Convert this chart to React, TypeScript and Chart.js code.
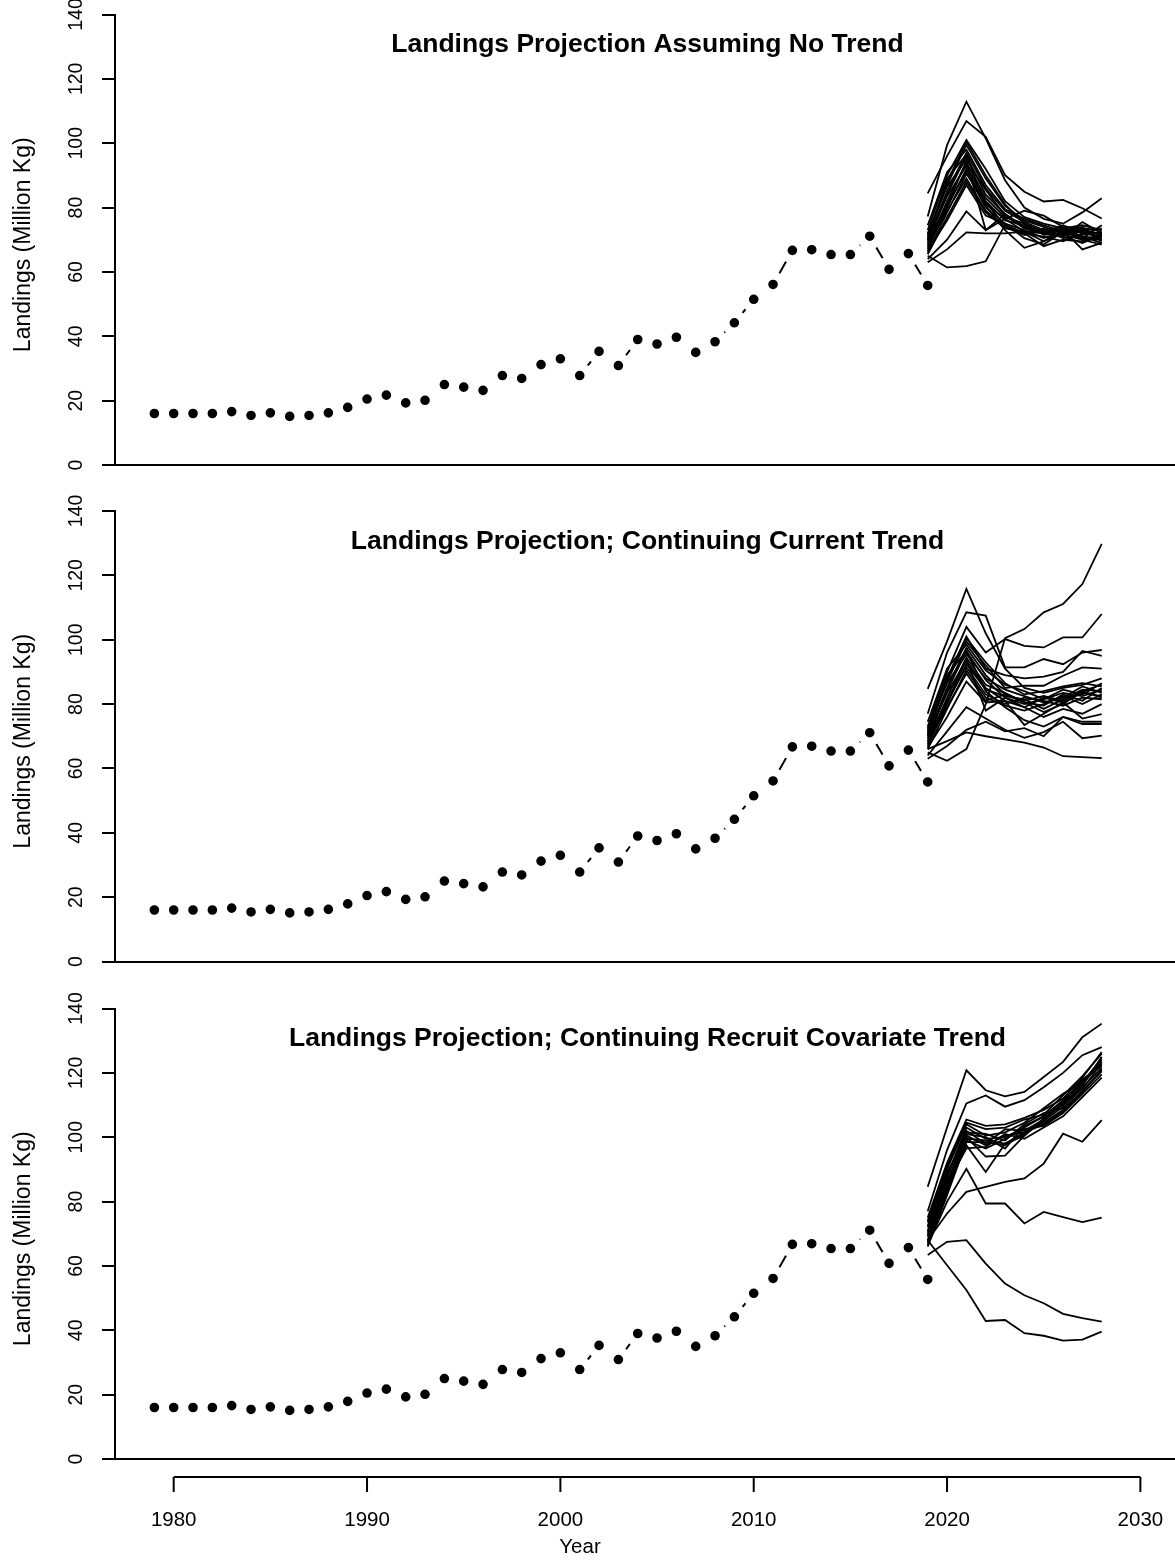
import React, { useEffect, useRef } from "react";
import { Chart, registerables } from "chart.js";

Chart.register(...registerables);

// ---------------- DATA ----------------
const obsYears = [
  1979, 1980, 1981, 1982, 1983, 1984, 1985, 1986, 1987, 1988, 1989, 1990, 1991, 1992,
  1993, 1994, 1995, 1996, 1997, 1998, 1999, 2000, 2001, 2002, 2003, 2004, 2005, 2006,
  2007, 2008, 2009, 2010, 2011, 2012, 2013, 2014, 2015, 2016, 2017, 2018, 2019,
];
const obsLandings = [
  16.0, 16.0, 16.0, 16.0, 16.6, 15.4, 16.2, 15.1, 15.4, 16.2, 17.9, 20.5, 21.7, 19.3,
  20.1, 25.0, 24.2, 23.2, 27.8, 26.9, 31.2, 33.0, 27.8, 35.3, 30.9, 39.0, 37.6, 39.7,
  35.0, 38.3, 44.2, 51.5, 56.1, 66.7, 66.9, 65.4, 65.4, 71.1, 60.8, 65.7, 55.8,
];

const projYears = [2019, 2020, 2021, 2022, 2023, 2024, 2025, 2026, 2027, 2028];

const projNoTrend = [
  [77.2, 99.4, 112.9, 101.5, 88.5, 80.0, 76.5, 75.0, 78.5, 82.9],
  [84.4, 96.0, 106.9, 102.0, 90.1, 84.9, 81.9, 82.4, 79.8, 76.6],
  [73.0, 90.0, 101.0, 92.0, 82.0, 77.0, 75.0, 73.5, 74.5, 73.0],
  [71.0, 87.0, 99.5, 89.0, 80.5, 76.0, 74.0, 72.0, 73.0, 71.5],
  [70.0, 85.0, 97.0, 86.0, 79.0, 75.5, 73.0, 71.5, 72.5, 72.0],
  [69.0, 84.0, 96.0, 84.0, 78.0, 74.0, 72.5, 73.5, 71.0, 70.5],
  [72.0, 86.5, 95.0, 85.5, 77.5, 73.5, 72.0, 74.5, 72.0, 71.0],
  [68.0, 82.0, 94.0, 83.0, 77.0, 75.0, 71.5, 72.0, 73.5, 69.5],
  [70.5, 83.5, 93.0, 82.0, 76.0, 74.5, 73.0, 70.5, 71.5, 72.5],
  [67.0, 80.0, 92.0, 81.0, 76.5, 72.5, 72.0, 73.0, 70.0, 71.0],
  [69.5, 81.0, 91.0, 80.0, 75.0, 73.0, 70.5, 72.5, 74.0, 70.0],
  [66.0, 78.5, 90.5, 81.5, 74.5, 72.0, 71.0, 69.5, 72.0, 73.5],
  [68.5, 79.0, 89.0, 79.0, 74.0, 71.5, 73.5, 71.0, 69.0, 71.5],
  [65.5, 77.0, 88.0, 78.5, 73.5, 72.5, 69.5, 72.0, 71.0, 69.0],
  [74.5, 91.0, 98.0, 87.0, 79.5, 76.5, 74.5, 72.5, 70.5, 74.5],
  [71.5, 88.0, 100.5, 90.0, 81.0, 75.0, 72.5, 71.0, 75.5, 72.0],
  [67.5, 80.5, 94.5, 73.0, 78.0, 74.0, 72.0, 71.5, 70.0, 68.5],
  [64.0, 70.0, 78.8, 73.0, 76.5, 79.0, 77.5, 74.0, 70.5, 70.0],
  [63.0, 67.0, 72.3, 72.0, 72.0, 72.5, 73.0, 74.0, 73.5, 73.0],
  [65.0, 61.4, 61.8, 63.3, 74.7, 72.0, 68.0, 70.0, 69.5, 72.0],
  [66.5, 76.0, 87.0, 77.5, 75.0, 70.5, 68.5, 72.5, 73.0, 71.5],
  [70.0, 89.0, 96.5, 80.5, 73.0, 67.5, 69.5, 73.0, 67.0, 69.0],
];

const projCurrentTrend = [
  [84.7, 99.5, 115.8, 102.0, 91.0, 85.0, 83.5, 85.0, 86.0, 88.0],
  [77.0, 96.0, 108.5, 107.5, 91.4, 91.4, 94.0, 92.4, 96.0, 96.8],
  [73.0, 90.0, 104.0, 96.0, 100.2, 98.1, 97.6, 100.7, 100.7, 108.0],
  [65.0, 62.4, 66.0, 80.0, 100.5, 103.3, 108.5, 111.1, 117.3, 129.8],
  [72.0, 88.0, 101.0, 91.0, 89.0, 88.0, 88.5, 90.0, 96.5, 95.0],
  [71.0, 87.0, 99.5, 92.0, 85.0, 85.7, 85.7, 88.8, 91.4, 91.0],
  [70.0, 85.0, 97.5, 89.0, 83.0, 81.0, 82.5, 81.0, 84.0, 86.0],
  [69.0, 84.0, 96.5, 87.5, 82.0, 80.0, 81.5, 83.5, 82.5, 84.5],
  [72.5, 86.5, 95.5, 88.0, 84.5, 82.5, 80.5, 82.0, 85.5, 83.5],
  [68.0, 82.0, 94.5, 86.0, 83.5, 80.5, 79.5, 83.0, 81.0, 85.0],
  [70.5, 83.5, 93.5, 85.0, 81.0, 79.0, 82.0, 80.5, 83.5, 82.5],
  [67.0, 80.0, 92.5, 84.5, 82.5, 81.5, 78.5, 81.5, 84.5, 84.0],
  [69.5, 81.0, 91.5, 83.0, 80.0, 82.0, 81.0, 79.5, 82.0, 81.5],
  [66.0, 78.5, 90.5, 82.0, 79.5, 78.0, 80.0, 82.5, 80.0, 83.0],
  [68.5, 79.0, 89.5, 81.0, 83.0, 80.5, 77.5, 80.0, 84.0, 82.0],
  [74.5, 91.0, 98.5, 90.5, 86.0, 84.0, 81.5, 84.5, 83.0, 86.5],
  [71.5, 88.0, 100.5, 93.0, 86.5, 83.0, 84.0, 85.5, 86.5, 85.5],
  [67.5, 80.5, 94.0, 78.0, 82.0, 79.0, 76.0, 78.5, 77.0, 80.0],
  [66.5, 76.0, 87.0, 80.5, 81.0, 73.5, 77.0, 80.5, 75.5, 76.9],
  [64.0, 71.5, 79.0, 75.5, 72.0, 69.5, 71.3, 74.5, 69.4, 70.2],
  [63.0, 67.0, 72.0, 74.5, 71.5, 72.5, 70.0, 76.0, 73.8, 73.8],
  [66.0, 68.5, 71.2, 70.0, 69.0, 68.0, 66.5, 63.8, 63.5, 63.2],
  [70.0, 89.0, 96.5, 84.0, 79.0, 75.0, 73.0, 76.0, 74.5, 74.5],
];

const projRecruitTrend = [
  [84.6, 103.0, 120.8, 114.6, 112.7, 114.1, 118.7, 123.4, 131.1, 135.3],
  [77.0, 96.0, 110.5, 113.0, 109.5, 111.5, 115.5, 120.0, 125.5, 128.0],
  [75.0, 92.0, 105.5, 103.5, 104.0, 106.0, 108.5, 112.0, 118.5, 126.5],
  [73.5, 90.0, 104.0, 100.5, 101.5, 104.5, 109.0, 113.5, 117.0, 124.5],
  [72.0, 88.0, 103.0, 99.5, 100.0, 103.0, 106.5, 111.0, 116.5, 123.5],
  [71.0, 87.5, 102.0, 98.0, 102.5, 102.0, 105.5, 110.5, 118.0, 122.0],
  [70.0, 86.0, 101.5, 101.0, 99.0, 104.0, 107.5, 109.0, 115.5, 121.5],
  [69.0, 85.0, 100.5, 97.5, 100.5, 101.5, 104.5, 108.5, 114.5, 120.5],
  [68.0, 84.0, 99.5, 99.0, 98.0, 100.5, 106.0, 110.0, 116.0, 125.0],
  [67.0, 83.0, 99.0, 96.5, 99.5, 102.5, 103.5, 107.5, 113.5, 119.5],
  [66.0, 82.0, 98.5, 98.5, 97.5, 101.0, 105.0, 109.5, 117.5, 122.5],
  [70.5, 86.5, 97.5, 89.2, 98.0, 101.5, 104.0, 108.0, 114.0, 121.0],
  [72.5, 89.0, 100.0, 94.0, 94.3, 100.5, 105.5, 110.5, 115.0, 123.0],
  [74.0, 91.0, 104.5, 102.5, 103.0, 105.5, 107.0, 113.0, 119.0, 126.0],
  [69.5, 85.5, 96.5, 97.0, 101.0, 99.5, 103.0, 106.5, 112.5, 118.5],
  [67.5, 84.5, 101.0, 100.0, 96.5, 103.5, 106.5, 111.5, 117.0, 124.0],
  [68.0, 76.3, 83.0, 84.6, 86.1, 87.2, 91.8, 101.1, 98.6, 105.3],
  [66.5, 80.0, 90.2, 79.4, 79.4, 73.2, 76.8, 75.2, 73.6, 75.0],
  [63.4, 67.5, 68.0, 60.7, 54.5, 50.9, 48.4, 45.1, 43.8, 42.7],
  [68.0, 60.2, 52.5, 42.9, 43.2, 39.1, 38.3, 36.8, 37.1, 39.6],
];

const panelTitles = [
  "Landings Projection Assuming No Trend",
  "Landings Projection; Continuing Current Trend",
  "Landings Projection; Continuing Recruit Covariate Trend",
];
const yTickValues = [0, 20, 40, 60, 80, 100, 120, 140];
const xTickValues = [1980, 1990, 2000, 2010, 2020, 2030];
const yAxisTitle = "Landings (Million Kg)";
const xAxisTitle = "Year";

// ---------------- LAYOUT / STYLE ----------------
const FONT = '"Liberation Sans", Arial, Helvetica, sans-serif';
const W = 1175;
const X_MIN = 1976.964;
const X_MAX = 2031.79;
const Y_MIN = 0;
const Y_MAX = 140;
const AXIS_W = 115;

function makeDecor(title: string, isBottom: boolean) {
  return {
    id: "panelDecor",
    afterDraw(chart: any) {
      const { ctx, chartArea, scales } = chart;
      const xs = scales.x;
      const ys = scales.y;
      ctx.save();
      ctx.fillStyle = "#000";
      ctx.strokeStyle = "#000";

      // rotated y tick labels
      ctx.font = `19.5px ${FONT}`;
      ctx.textAlign = "center";
      ctx.textBaseline = "alphabetic";
      ys.ticks.forEach((t: any) => {
        const py = ys.getPixelForValue(t.value);
        ctx.save();
        ctx.translate(82, py);
        ctx.rotate(-Math.PI / 2);
        ctx.fillText(String(t.value), 0, 0);
        ctx.restore();
      });

      // y axis title
      ctx.font = `23px ${FONT}`;
      ctx.save();
      ctx.translate(30, (chartArea.top + chartArea.bottom) / 2 + 5);
      ctx.rotate(-Math.PI / 2);
      ctx.fillText(yAxisTitle, 0, 0);
      ctx.restore();

      // panel title inside plot
      ctx.font = `bold 26.5px ${FONT}`;
      ctx.textAlign = "center";
      ctx.fillText(title, (chartArea.left + chartArea.right) / 2 + 2.5, chartArea.top + 37.5);

      if (isBottom) {
        const axisY = chartArea.bottom + 18;
        const x0 = xs.getPixelForValue(xTickValues[0]);
        const x1 = xs.getPixelForValue(xTickValues[xTickValues.length - 1]);
        ctx.lineWidth = 2;
        ctx.beginPath();
        ctx.moveTo(x0, axisY);
        ctx.lineTo(x1, axisY);
        xTickValues.forEach((v) => {
          const px = xs.getPixelForValue(v);
          ctx.moveTo(px, axisY);
          ctx.lineTo(px, axisY + 15);
        });
        ctx.stroke();
        ctx.font = `20.5px ${FONT}`;
        ctx.textAlign = "center";
        xTickValues.forEach((v) => {
          ctx.fillText(String(v), xs.getPixelForValue(v), chartArea.bottom + 67);
        });
        ctx.fillText(xAxisTitle, 580, chartArea.bottom + 94);
      }
      ctx.restore();
    },
  };
}

function Panel(props: {
  top: number;
  height: number;
  padTop: number;
  padBottom: number;
  title: string;
  projections: number[][];
  isBottom: boolean;
}) {
  const ref = useRef<HTMLCanvasElement | null>(null);
  useEffect(() => {
    if (!ref.current) return;
    const projDatasets = props.projections.map((series) => ({
      data: projYears.map((yr, i) => ({ x: yr, y: series[i] })),
      borderColor: "#000",
      borderWidth: 1.8,
      pointRadius: 0,
      tension: 0,
      fill: false,
      order: 0,
    }));
    const obsDataset = {
      data: obsYears.map((yr, i) => ({ x: yr, y: obsLandings[i] })),
      borderColor: "#000",
      borderWidth: 2,
      tension: 0,
      fill: false,
      pointRadius: 8.9,
      pointBorderWidth: 8.2,
      pointBackgroundColor: "#000",
      pointBorderColor: "#fff",
      order: 1,
    };
    const chart = new Chart(ref.current, {
      type: "line",
      data: { datasets: [...projDatasets, obsDataset] as any },
      options: {
        responsive: false,
        maintainAspectRatio: false,
        animation: false,
        devicePixelRatio: 1,
        events: [],
        layout: {
          autoPadding: false,
          padding: { top: props.padTop, bottom: props.padBottom, left: 0, right: 0 },
        },
        plugins: {
          legend: { display: false },
          tooltip: { enabled: false },
          title: { display: false },
        },
        scales: {
          x: { type: "linear", min: X_MIN, max: X_MAX, display: false },
          y: {
            type: "linear",
            position: "left",
            min: Y_MIN,
            max: Y_MAX,
            ticks: { display: false },
            afterBuildTicks: (s: any) => {
              s.ticks = yTickValues.map((v) => ({ value: v }));
            },
            afterFit: (s: any) => {
              s.width = AXIS_W;
              s.paddingTop = 0;
              s.paddingBottom = 0;
            },
            grid: {
              display: true,
              drawOnChartArea: true,
              drawTicks: true,
              tickLength: 13,
              tickWidth: 2,
              tickColor: "#000",
              lineWidth: 2,
              color: (c: any) => (c.tick && c.tick.value === 0 ? "#000" : "rgba(0,0,0,0)"),
            },
            border: { display: true, color: "#000", width: 2 },
          },
        },
      } as any,
      plugins: [makeDecor(props.title, props.isBottom)],
    });
    return () => chart.destroy();
  }, []);
  return (
    <canvas
      ref={ref}
      width={W}
      height={props.height}
      style={{ position: "absolute", left: 0, top: props.top, width: W, height: props.height }}
    />
  );
}

export default function App() {
  return (
    <div
      style={{
        position: "absolute",
        left: 0,
        top: 0,
        width: W,
        height: 1563,
        background: "#fff",
        overflow: "hidden",
      }}
    >
      <Panel top={0} height={497} padTop={14.5} padBottom={32} title={panelTitles[0]} projections={projNoTrend} isBottom={false} />
      <Panel top={477} height={517} padTop={34} padBottom={32.5} title={panelTitles[1]} projections={projCurrentTrend} isBottom={false} />
      <Panel top={974} height={589} padTop={34.5} padBottom={104} title={panelTitles[2]} projections={projRecruitTrend} isBottom={true} />
    </div>
  );
}
